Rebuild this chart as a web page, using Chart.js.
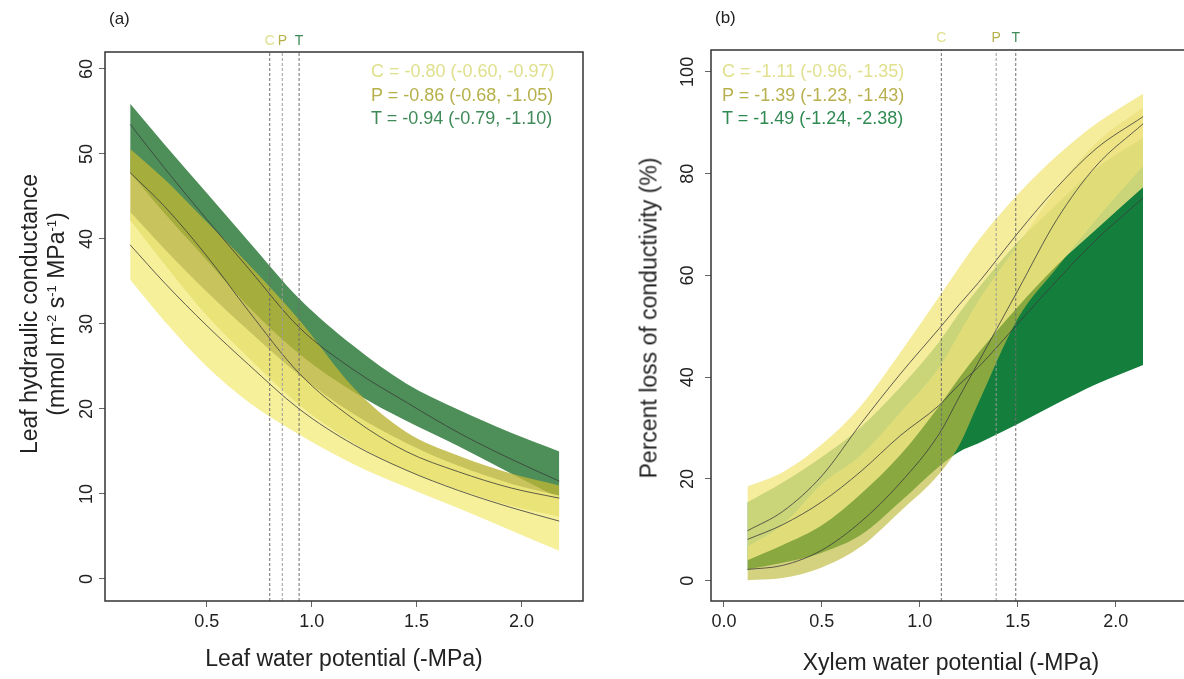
<!DOCTYPE html>
<html lang="en">
<head>
<meta charset="UTF-8">
<title>Leaf conductance and xylem vulnerability</title>
<script src="https://cdn.jsdelivr.net/npm/chart.js"></script>
<style>
  html, body { margin: 0; padding: 0; background: #fff; }
  body { width: 1184px; height: 679px; overflow: hidden; position: relative; font-family: 'Liberation Sans', Arial, sans-serif; color: #222; }
  canvas { position: absolute; top: 0; }
  #cvA { left: 0; }
  #cvB { left: 600px; }
  .lbl { position: absolute; white-space: nowrap; }
  .rot { transform: translate(-50%, -50%) rotate(-90deg); }
  .ann { font-size: 18px; line-height: 23.5px; }
  sup { font-size: 13px; line-height: 0; vertical-align: 0.55em; }
</style>
</head>
<body>
<canvas id="cvA" width="600" height="679"></canvas>
<canvas id="cvB" width="600" height="679"></canvas>

<div class="lbl" style="left:109px; top:9px; font-size:17px;">(a)</div>
<div class="lbl" style="left:715px; top:8px; font-size:17px;">(b)</div>

<div class="lbl rot" style="left:29px; top:314px; font-size:23px;">Leaf hydraulic conductance</div>
<div class="lbl rot" style="left:56px; top:314px; font-size:23px;">(mmol m<sup>-2</sup> s<sup>-1</sup> MPa<sup>-1</sup>)</div>
<div class="lbl rot" style="left:649px; top:318px; font-size:23px;">Percent loss of conductivity (%)</div>
<div class="lbl" style="left:344px; top:658px; font-size:23px; transform: translate(-50%, -50%);">Leaf water potential (-MPa)</div>
<div class="lbl" style="left:951px; top:662px; font-size:23px; transform: translate(-50%, -50%);">Xylem water potential (-MPa)</div>

<div class="lbl ann" style="left:371px; top:60px;">
  <div style="color:#dfe08c">C = -0.80 (-0.60, -0.97)</div>
  <div style="color:#b5b04a">P = -0.86 (-0.68, -1.05)</div>
  <div style="color:#3f8a58">T = -0.94 (-0.79, -1.10)</div>
</div>
<div class="lbl ann" style="left:722px; top:60px;">
  <div style="color:#e0e08e">C = -1.11 (-0.96, -1.35)</div>
  <div style="color:#b8b04e">P = -1.39 (-1.23, -1.43)</div>
  <div style="color:#2f8a52">T = -1.49 (-1.24, -2.38)</div>
</div>

<script>
// ---- panel (a): leaf hydraulic conductance ----
const xA = [0.135, 0.3, 0.5, 0.7, 0.94, 1.2, 1.45, 1.7, 1.95, 2.18];
const aC_up  = [43.2, 38.8, 33.8, 29.2, 24.0, 19.4, 16.0, 13.3, 11.2, 9.8];
const aC_mid = [39.3, 34.8, 29.8, 25.2, 20.0, 15.8, 12.8, 10.4, 8.4, 6.8];
const aC_lo  = [35.2, 30.3, 25.0, 20.8, 17.0, 13.5, 10.8, 8.3, 5.7, 3.3];
const aP_up  = [50.6, 47.0, 42.0, 37.0, 30.5, 22.5, 17.3, 14.5, 12.4, 11.0];
const aP_mid = [47.8, 43.8, 38.0, 31.5, 24.2, 18.8, 15.0, 12.6, 10.7, 9.5];
const aP_lo  = [42.2, 37.0, 31.0, 26.0, 20.5, 16.0, 12.8, 10.5, 8.6, 7.3];
const aT_up  = [55.9, 51.1, 45.4, 39.7, 33.0, 27.4, 23.0, 19.9, 17.2, 15.0];
const aT_mid = [53.5, 48.3, 42.3, 36.5, 29.6, 24.6, 20.8, 17.2, 14.1, 11.5];
const aT_lo  = [47.8, 43.0, 37.5, 32.0, 26.5, 22.0, 18.6, 15.6, 12.4, 9.5];
const aP50 = [0.80, 0.86, 0.94];           // C, P, T
const aYTicks = [0, 10, 20, 30, 40, 50, 60];
const aXTicks = [0.5, 1.0, 1.5, 2.0];

// ---- panel (b): percent loss of conductivity ----
const xB = [0.12, 0.3, 0.5, 0.7, 0.9, 1.1, 1.2, 1.3, 1.5, 1.7, 1.9, 2.14];
const bC_up  = [18.5, 21.3, 26.8, 34.4, 44.8, 55.9, 61.5, 66.9, 75.9, 83.5, 89.8, 95.7];
const bC_mid = [9.8, 13.6, 20.6, 30.9, 40.6, 49.6, 54.2, 58.6, 68.3, 77.3, 84.9, 91.2];
const bC_lo  = [4.0, 7.0, 10.9, 17.1, 24.7, 34.4, 39.8, 44.8, 53.8, 62.0, 69.0, 77.3];
const bP_up  = [6.7, 11.0, 19.0, 24.7, 33.0, 42.0, 48.5, 55.0, 66.0, 77.0, 86.0, 93.0];
const bP_mid = [2.2, 3.0, 6.0, 11.6, 19.2, 28.9, 36.0, 43.0, 57.0, 71.0, 81.5, 89.8];
const bP_lo  = [0.1, 0.5, 2.6, 6.7, 13.6, 21.0, 26.5, 35.0, 51.5, 61.5, 71.0, 81.5];
const bT_up  = [15.4, 19.3, 24.3, 30.2, 38.0, 47.0, 52.5, 57.5, 66.5, 74.0, 81.0, 87.0];
const bT_mid = [8.1, 11.0, 15.5, 21.5, 28.5, 34.5, 38.5, 42.0, 50.5, 59.0, 67.0, 75.2];
const bT_lo  = [2.2, 3.5, 5.5, 9.0, 15.5, 22.5, 25.3, 27.0, 30.8, 34.8, 38.6, 42.4];
const bP50 = [1.11, 1.39, 1.49];
const bYTicks = [0, 20, 40, 60, 80, 100];
const bXTicks = [0.0, 0.5, 1.0, 1.5, 2.0];

const groupNames = ['C', 'P', 'T'];
const labelColors = ['#dfe08c', '#b5b04a', '#3f8a58'];

function pts(xs, ys) { return xs.map((x, i) => ({ x: x, y: ys[i] })); }

function band(xs, up, lo, color, order) {
  return [
    { data: pts(xs, up), fill: '+1', backgroundColor: color, borderWidth: 0, pointRadius: 0,
      cubicInterpolationMode: 'monotone', order: order },
    { data: pts(xs, lo), fill: false, borderWidth: 0, pointRadius: 0,
      cubicInterpolationMode: 'monotone', order: order }
  ];
}

function midLine(xs, ys) {
  return { data: pts(xs, ys), fill: false, borderColor: '#3a3a3a', borderWidth: 0.8, pointRadius: 0,
    cubicInterpolationMode: 'monotone', order: 1 };
}

function dashLines(p50, ymin, ymax) {
  return p50.map((x, i) => ({
    data: [{ x: x, y: ymin }, { x: x, y: ymax }], fill: false, borderColor: i === 1 ? '#9a9a9a' : '#6e6e6e',
    borderWidth: 1, borderDash: [3, 2], pointRadius: 0, order: 0
  }));
}

// box around the plot area + C/P/T markers above the dashed lines
const framePlugin = {
  id: 'frame',
  afterDraw(chart, args, opts) {
    const { ctx, chartArea: a } = chart;
    ctx.save();
    ctx.strokeStyle = '#333';
    ctx.lineWidth = 1.5;
    ctx.strokeRect(a.left, a.top, a.right - a.left, a.bottom - a.top);
    ctx.font = '14px "Liberation Sans", Arial, sans-serif';
    ctx.textAlign = 'center';
    ctx.textBaseline = 'middle';
    opts.p50.forEach((v, i) => {
      ctx.fillStyle = labelColors[i];
      ctx.fillText(groupNames[i], chart.scales.x.getPixelForValue(v), opts.markY);
    });
    ctx.restore();
  }
};

function makeChart(id, cfg) {
  const tickFont = { family: '"Liberation Sans", Arial, sans-serif', size: 18 };
  return new Chart(document.getElementById(id), {
    type: 'line',
    data: { datasets: cfg.datasets },
    options: {
      responsive: false,
      animation: false,
      events: [],
      layout: { padding: cfg.padding },
      plugins: { legend: { display: false }, tooltip: { enabled: false }, frame: { p50: cfg.p50, markY: cfg.markY } },
      scales: {
        x: {
          type: 'linear', min: cfg.xmin, max: cfg.xmax,
          grid: { drawOnChartArea: false, drawTicks: true, tickLength: 6, tickColor: '#666' },
          border: { display: false },
          ticks: { font: tickFont, color: '#222', padding: 4, maxRotation: 0,
            callback: v => v.toFixed(1) },
          afterBuildTicks: s => { s.ticks = cfg.xTicks.map(v => ({ value: v })); },
          afterFit: s => { s.height = cfg.xAxisH; }
        },
        y: {
          type: 'linear', min: cfg.ymin, max: cfg.ymax,
          grid: { drawOnChartArea: false, drawTicks: true, tickLength: 6, tickColor: '#666' },
          border: { display: false },
          ticks: { font: tickFont, color: '#222', padding: cfg.yPad, minRotation: 90, maxRotation: 90,
            crossAlign: 'center' },
          afterBuildTicks: s => { s.ticks = cfg.yTicks.map(v => ({ value: v })); },
          afterFit: s => { s.width = cfg.yAxisW; }
        }
      }
    },
    plugins: [framePlugin]
  });
}

// T band underneath, P and C translucent on top
makeChart('cvA', {
  datasets: [
    ...band(xA, aT_up, aT_lo, 'rgb(78,143,89)', 30),
    ...band(xA, aP_up, aP_lo, 'rgba(187,180,54,0.8)', 20),
    ...band(xA, aC_up, aC_lo, 'rgba(243,236,127,0.78)', 10),
    midLine(xA, aT_mid), midLine(xA, aP_mid), midLine(xA, aC_mid),
    ...dashLines(aP50, -2.6, 62.0)
  ],
  padding: { top: 52, right: 17, left: 0, bottom: 0 },
  xmin: 0.015, xmax: 2.293, ymin: -2.6, ymax: 62.0,
  xTicks: aXTicks, yTicks: aYTicks, xAxisH: 78, yAxisW: 105, yPad: 2,
  p50: aP50, markY: 41
});

makeChart('cvB', {
  datasets: [
    ...band(xB, bT_up, bT_lo, 'rgb(20,127,61)', 30),
    ...band(xB, bP_up, bP_lo, 'rgba(193,189,67,0.68)', 20),
    ...band(xB, bC_up, bC_lo, 'rgba(243,232,134,0.82)', 10),
    midLine(xB, bT_mid), midLine(xB, bP_mid), midLine(xB, bC_mid),
    ...dashLines(bP50, -4.0, 104.3)
  ],
  padding: { top: 50, right: 6, left: 0, bottom: 0 },
  xmin: -0.066, xmax: 2.40, ymin: -4.0, ymax: 104.3,
  xTicks: bXTicks, yTicks: bYTicks, xAxisH: 78, yAxisW: 111, yPad: 2,
  p50: bP50, markY: 38
});
</script>
</body>
</html>
